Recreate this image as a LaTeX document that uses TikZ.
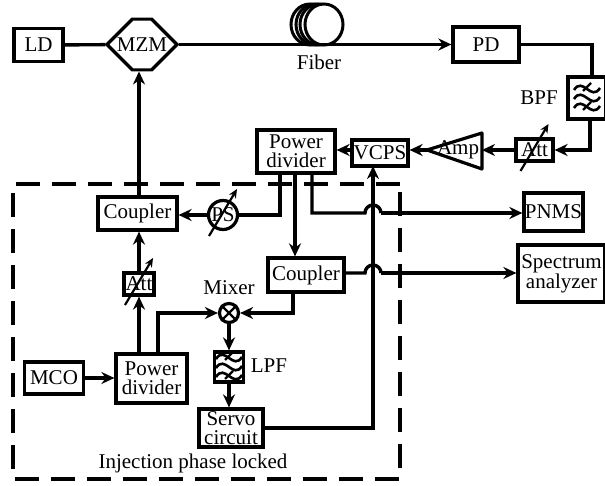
\documentclass[tikz,border=0pt]{standalone}
\usepackage{fontspec}
\setmainfont{Liberation Serif}
\usetikzlibrary{arrows.meta, calc, positioning, shapes.misc}
\newcommand{\filterwaves}[1]{%
    \foreach \dy in {-9,0,9} {
        \draw[line width=2.6pt] ($(#1)+(-13,\dy-1)$) .. controls +(9,14) and +(-9,-14) .. +(26,2);
    }
    \draw[line width=2.2pt] ($(#1)+(-4,7)$) -- ($(#1)+(4,15)$);
    \draw[line width=2.2pt] ($(#1)+(-4,-12)$) -- ($(#1)+(4,-4)$);
}
\newcommand{\tunearrow}[1]{%
    \draw[tune] ($(#1)+(-14,-21)$) -- ($(#1)+(14,26)$);
}
\begin{document}
\begin{tikzpicture}[
    x=1pt, y=1pt,
    font=\fontsize{21}{19}\selectfont,
    box/.style={rectangle, draw, line width=3.2pt, inner sep=0pt, align=center},
    arrow/.style={-{Stealth[length=13pt,width=12pt]}, line width=3.4pt},
    wire/.style={line width=3.4pt},
    tune/.style={-{Stealth[length=9pt,width=8pt]}, line width=2.2pt},
    label/.style={inner sep=0pt, align=center}
]
    \useasboundingbox (0,0) rectangle (605,-486);

    % Dashed frame
    \draw[line width=3.2pt, dash pattern=on 24pt off 12pt] (400,-184) -- (13,-184) -- (13,-479) -- (400,-479) -- cycle;

    % Top row
    \node[box, minimum width=49pt, minimum height=33pt] (ld) at (38.5,-45) {LD};
    \node[box, chamfered rectangle, chamfered rectangle xsep=10pt, chamfered rectangle ysep=18.5pt, minimum width=70pt, minimum height=37pt] (mzm) at (142,-44.5) {MZM};
    \node[box, minimum width=66pt, minimum height=35pt] (pd) at (486,-44.5) {PD};
    \node[label] (fiberlabel) at (319,-62) {Fiber};

    % Fiber coil
    \foreach \cx in {310,315,319,324} {
        \draw[line width=3pt, fill=white] (\cx,-24.5) ellipse (19 and 20.5);
    }

    % Loop back
    \node[box, minimum width=38pt, minimum height=42pt] (bpf) at (587,-98) {};
    \node[label] (bpflabel) at (539,-98) {BPF};
    \node[box, minimum width=37pt, minimum height=22pt] (att1) at (534.5,-150) {Att};
    \node[label] (amp) at (458,-150) {Amp};
    \coordinate (ampin) at (482,-150);
    \coordinate (amptip) at (427,-150);
    \coordinate (amptop) at (482,-133);
    \coordinate (ampbot) at (482,-169);
    \node[box, minimum width=56pt, minimum height=26pt] (vcps) at (380,-153) {VCPS};
    \node[box, minimum width=78pt, minimum height=43pt] (pdiv1) at (296,-151.5) {Power\\divider};
    \node[box, minimum width=59pt, minimum height=38pt] (pnms) at (553.5,-212) {PNMS};
    \node[box, minimum width=87pt, minimum height=57pt] (spec) at (561.5,-273.5) {Spectrum\\analyzer};

    % Injection phase locked part
    \node[box, minimum width=79pt, minimum height=33pt] (coupler1) at (137.5,-213.5) {Coupler};
    \node[box, circle, minimum size=29pt] (ps) at (223,-215) {PS};
    \node[box, minimum width=76pt, minimum height=34pt] (coupler2) at (306,-275) {Coupler};
    \node[box, minimum width=30pt, minimum height=22pt] (att2) at (139,-284) {Att};
    \node[box, circle, minimum size=19pt] (mixer) at (229,-313) {};
    \node[label] (mixerlabel) at (229,-288) {Mixer};
    \node[box, minimum width=59pt, minimum height=32pt] (mco) at (54,-378) {MCO};
    \node[box, minimum width=71pt, minimum height=49pt] (pdiv2) at (151.5,-378.5) {Power\\divider};
    \node[box, minimum width=29pt, minimum height=30pt] (lpf) at (229,-367) {};
    \node[label] (lpflabel) at (269,-366) {LPF};
    \node[box, minimum width=64pt, minimum height=38pt] (servo) at (231,-428) {Servo\\circuit};
    \node[label] (locklabel) at (193,-463) {Injection phase locked};

    % Tap points
    \coordinate (bpfin) at (592,-77);
    \coordinate (bpfout) at (590,-119);
    \coordinate (tap1) at (280,-173);
    \coordinate (tap2) at (295,-173);
    \coordinate (tap3) at (312,-173);
    \coordinate (tap4) at (293,-292);
    \coordinate (tap5) at (158,-354);
    \coordinate (tap6) at (139,-354);
    \coordinate (vline) at (373,-166);
    \coordinate (hop1a) at (365,-213);
    \coordinate (hop1b) at (381,-213);
    \coordinate (hop2a) at (365,-273);
    \coordinate (hop2b) at (381,-273);

    % Connectors
    \draw[wire] (ld) -- (mzm);
    \draw[arrow, line width=2.4pt] (mzm.east) -- (pd.west |- mzm.east);
    \draw[wire] (pd.east) -| (bpfin);
    \draw[arrow] (bpfout) |- (att1.east);
    \draw[arrow] (att1) -- (ampin);
    \draw[line width=3.2pt, line join=round] (amptop) -- (amptip) -- (ampbot) -- cycle;
    \draw[arrow] (amptip) -- (vcps.east |- amptip);
    \draw[arrow] (vcps.west |- amptip) -- (pdiv1.east |- amptip);
    \draw[wire] (tap1) |- (ps.east);
    \draw[arrow] (ps.west) -- (coupler1.east |- ps.west);
    \draw[arrow] (coupler1.north -| tap6) -- (mzm.south -| tap6);
    \draw[arrow] (att2.north -| tap6) -- (coupler1.south -| tap6);
    \draw[arrow] (tap6) -- (att2.south -| tap6);
    \draw[arrow] (tap5) |- (mixer.west);
    \draw[arrow] (mco) -- (pdiv2.west |- mco);
    \draw[arrow] (tap2) -- (coupler2.north -| tap2);
    \draw[arrow] (tap4) |- (mixer.east);
    \draw[arrow] (mixer) -- (lpf);
    \draw[arrow] (lpf.south) -- (lpf.south |- servo.north);
    \draw[arrow] (servo.east) -| (vline);
    \draw[wire] (tap3) |- (hop1a) arc[start angle=180, end angle=0, radius=8];
    \draw[arrow] (hop1b) -- (pnms.west |- hop1b);
    \draw[wire] (coupler2.east |- hop2a) -- (hop2a) arc[start angle=180, end angle=0, radius=8];
    \draw[arrow] (hop2b) -- (spec.west |- hop2b);

    % Symbols
    \filterwaves{bpf}
    \filterwaves{lpf}
    \tunearrow{att1}
    \tunearrow{att2}
    \tunearrow{ps}
    \draw[line width=2.4pt] (mixer.north west) -- (mixer.south east);
    \draw[line width=2.4pt] (mixer.north east) -- (mixer.south west);
\end{tikzpicture}
\end{document}
